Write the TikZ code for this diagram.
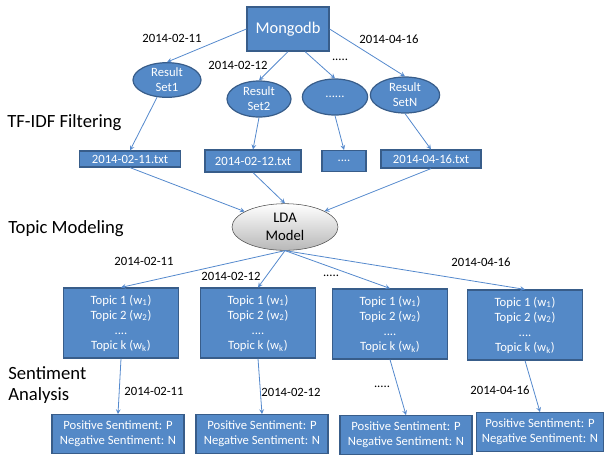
\documentclass[tikz,border=0pt]{standalone}
\usepackage{fontspec}
\setmainfont{Carlito}
\usetikzlibrary{shapes.geometric}

\definecolor{boxblue}{RGB}{84,137,199}
\definecolor{edgeblue}{RGB}{56,93,138}
\definecolor{linkblue}{RGB}{84,137,205}

\begin{document}
\begin{tikzpicture}[
        x=0.75pt, y=-0.75pt,
        dbbox/.style={rectangle, draw=edgeblue, fill=boxblue, text=white, line width=0.9pt, minimum width=61.5pt, minimum height=33pt, font=\fontsize{12.3}{14}\selectfont},
        setnode/.style={ellipse, draw=edgeblue, fill=boxblue, text=white, line width=0.9pt, inner sep=0pt, minimum width=51pt, minimum height=26pt, align=center, font=\fontsize{9.5}{11.3}\selectfont},
        filebox/.style={rectangle, draw=edgeblue, fill=boxblue, text=white, line width=0.9pt, minimum height=13pt, inner sep=1pt, font=\fontsize{9.5}{11.3}\selectfont},
        ldanode/.style={ellipse, draw=black!70, top color=white, bottom color=black!28, inner sep=0pt, minimum width=79.5pt, minimum height=35pt, align=center, font=\fontsize{11}{13.5}\selectfont},
        topicbox/.style={rectangle, draw=edgeblue, fill=boxblue, text=white, line width=0.9pt, minimum width=86pt, minimum height=52.5pt, align=center, font=\fontsize{9.5}{11.3}\selectfont},
        sentbox/.style={rectangle, draw=edgeblue, fill=boxblue, text=white, line width=0.9pt, minimum width=99pt, minimum height=29pt, inner sep=1pt, align=center, font=\fontsize{9.5}{11}\selectfont},
        datelabel/.style={font=\fontsize{9.5}{11.3}\selectfont, inner sep=0pt},
        stage/.style={font=\fontsize{14}{16}\selectfont, anchor=west, align=left, inner sep=0pt},
        link/.style={->, >=stealth, draw=linkblue, line width=0.6pt}
    ]
    \useasboundingbox (0,0) rectangle (605,455);

    % Source and result sets
    \node[dbbox] (mongo) at (288,29) {Mongodb};
    \node[setnode] (set1) at (167,80) {Result\\Set1};
    \node[setnode, minimum width=48pt, minimum height=27pt] (set2) at (259,99) {Result\\Set2};
    \node[setnode, minimum width=49pt, minimum height=27pt] (setdots) at (335,97) {......};
    \node[setnode, minimum width=52pt, minimum height=27pt] (setn) at (405,95) {Result\\SetN};

    \node[datelabel] (d1) at (172,38) {2014-02-11};
    \node[datelabel] (d2) at (238,65) {2014-02-12};
    \node[datelabel] (d3) at (340,60) {.....};
    \node[datelabel] (d4) at (389,39) {2014-04-16};

    % TF-IDF filtering
    \node[stage] (tfidf) at (7,123) {TF-IDF Filtering};
    \node[filebox, minimum width=75.75pt, minimum height=12pt] (file1) at (130,159) {2014-02-11.txt};
    \node[filebox, minimum width=72pt, minimum height=16.5pt] (file2) at (253,161) {2014-02-12.txt};
    \node[filebox, minimum width=33pt, minimum height=15.75pt] (file3) at (344,161) {....};
    \node[filebox, minimum width=75pt, minimum height=13.5pt] (file4) at (431,159) {2014-04-16.txt};

    \draw[link] (mongo.west) -- (set1.north);
    \draw[link] (mongo.south) -- (set2.north);
    \draw[link] (mongo.-53) -- (setdots.north);
    \draw[link] (mongo.east) -- (setn.north);
    \draw[link] (set1.240) -- (file1.north);
    \draw[link] (set2.south) -- (file2.north);
    \draw[link] (setdots.south) -- (file3.north);
    \draw[link] (setn.south) -- (file4.north);

    % Topic modeling
    \node[stage] (topicmod) at (8,229) {Topic Modeling};
    \node[ldanode] (lda) at (285,227) {LDA\\Model};
    \draw[link] (file1.south) -- (lda);
    \draw[link] (file2.south) -- (lda.north);
    \draw[link] (file4.south) -- (lda);

    \node[datelabel] (t1) at (144,261) {2014-02-11};
    \node[datelabel] (t2) at (231,276) {2014-02-12};
    \node[datelabel] (t3) at (331,276) {.....};
    \node[datelabel] (t4) at (481,262) {2014-04-16};

    \node[topicbox] (topic1) at (121,323) {Topic 1 (w\textsubscript{1})\\Topic 2 (w\textsubscript{2})\\....\\Topic k (w\textsubscript{k})};
    \node[topicbox] (topic2) at (258,323) {Topic 1 (w\textsubscript{1})\\Topic 2 (w\textsubscript{2})\\....\\Topic k (w\textsubscript{k})};
    \node[topicbox] (topic3) at (390,324) {Topic 1 (w\textsubscript{1})\\Topic 2 (w\textsubscript{2})\\....\\Topic k (w\textsubscript{k})};
    \node[topicbox] (topic4) at (525,325) {Topic 1 (w\textsubscript{1})\\Topic 2 (w\textsubscript{2})\\....\\Topic k (w\textsubscript{k})};
    \draw[link] (lda.south) -- (topic1.north);
    \draw[link] (lda.south) -- (topic2.north);
    \draw[link] (lda.south) -- (topic3.north);
    \draw[link] (lda.south) -- (topic4.north);

    % Sentiment analysis
    \node[stage] (sentana) at (8,385) {Sentiment\\Analysis};
    \node[datelabel] (s1) at (154,391) {2014-02-11};
    \node[datelabel] (s2) at (291,392) {2014-02-12};
    \node[datelabel] (s3) at (382,387) {.....};
    \node[datelabel] (s4) at (500,390) {2014-04-16};

    \node[sentbox] (sent1) at (118,434) {Positive Sentiment: P\\Negative Sentiment: N};
    \node[sentbox] (sent2) at (262,434) {Positive Sentiment: P\\Negative Sentiment: N};
    \node[sentbox] (sent3) at (406,435) {Positive Sentiment: P\\Negative Sentiment: N};
    \node[sentbox, minimum width=95pt] (sent4) at (540,432) {Positive Sentiment: P\\Negative Sentiment: N};
    \draw[link] (topic1.south) -- (sent1.north);
    \draw[link] (topic2.south) -- (sent2.north);
    \draw[link] (topic3.south) -- (sent3.north);
    \draw[link] (topic4.south) -- (sent4.north);
\end{tikzpicture}
\end{document}
